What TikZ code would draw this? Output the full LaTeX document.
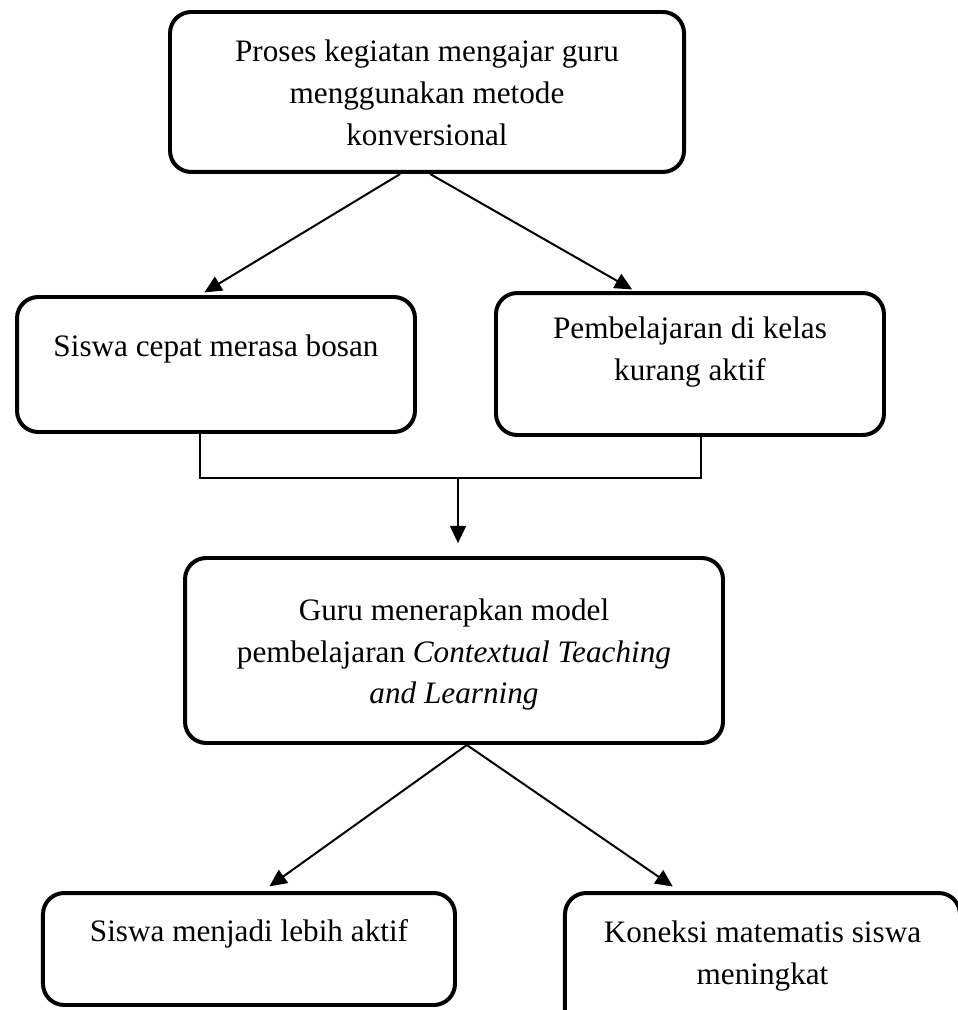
\documentclass[tikz,border=0pt]{standalone}
\usepackage{fontspec}
\setmainfont{Liberation Serif}
\usetikzlibrary{arrows.meta}

\begin{document}
\begin{tikzpicture}[
    box/.style={rectangle, draw, line width=3pt, rounded corners=16pt, align=center, inner sep=0pt, text height=16pt, text depth=6pt, font=\fontsize{23.5}{31.5}\selectfont},
    arrow/.style={-{Triangle[length=13pt, width=12pt]}, line width=1.5pt},
    bracket/.style={line width=1pt}
]
\useasboundingbox (0, 0) rectangle (25.347, -26.723);

% Boxes
\node[box, minimum width=13.60cm, minimum height=4.233cm, text height=86.5pt] (proses) at (11.298, -2.434) {Proses kegiatan mengajar guru\\menggunakan metode\\konversional};
\node[box, minimum width=10.53cm, minimum height=3.572cm, text depth=27.75pt] (bosan) at (5.715, -9.644) {Siswa cepat merasa bosan};
\node[box, minimum width=10.266cm, minimum height=3.757cm, text height=47.5pt, text depth=22.5pt] (kurang) at (18.256, -9.631) {Pembelajaran di kelas\\kurang aktif};
\node[box, minimum width=14.234cm, minimum height=4.895cm, text height=86.5pt] (ctl) at (12.012, -17.211) {Guru menerapkan model\\pembelajaran \textit{Contextual Teaching}\\\textit{and Learning}};
\node[box, minimum width=10.901cm, minimum height=2.963cm, text depth=27pt] (aktif) at (6.588, -25.109) {Siswa menjadi lebih aktif};
\node[box, minimum width=10.451cm, minimum height=3.757cm, text height=47.5pt, text depth=17.25pt] (koneksi) at (20.174, -25.506) {Koneksi matematis siswa\\meningkat};

% Arrows
\draw[arrow, shorten >=0.13cm] ([xshift=-0.71cm]proses.south) -- ([xshift=-0.42cm]bosan.north);
\draw[arrow, shorten >=0.08cm] ([xshift=0.08cm]proses.south) -- ([xshift=-1.46cm]kurang.north);

\coordinate (join) at (12.118, -12.647);
\draw[bracket] ([xshift=-0.42cm]bosan.south) |- (join) -| ([xshift=0.29cm]kurang.south);
\draw[arrow, shorten >=0.34cm] (join) -- (join |- ctl.north);

\draw[arrow, shorten >=0.21cm] ([xshift=0.34cm]ctl.south) -- ([xshift=0.37cm]aktif.north);
\draw[arrow, shorten >=0.21cm] ([xshift=0.34cm]ctl.south) -- ([xshift=-2.2cm]koneksi.north);

\end{tikzpicture}
\end{document}
